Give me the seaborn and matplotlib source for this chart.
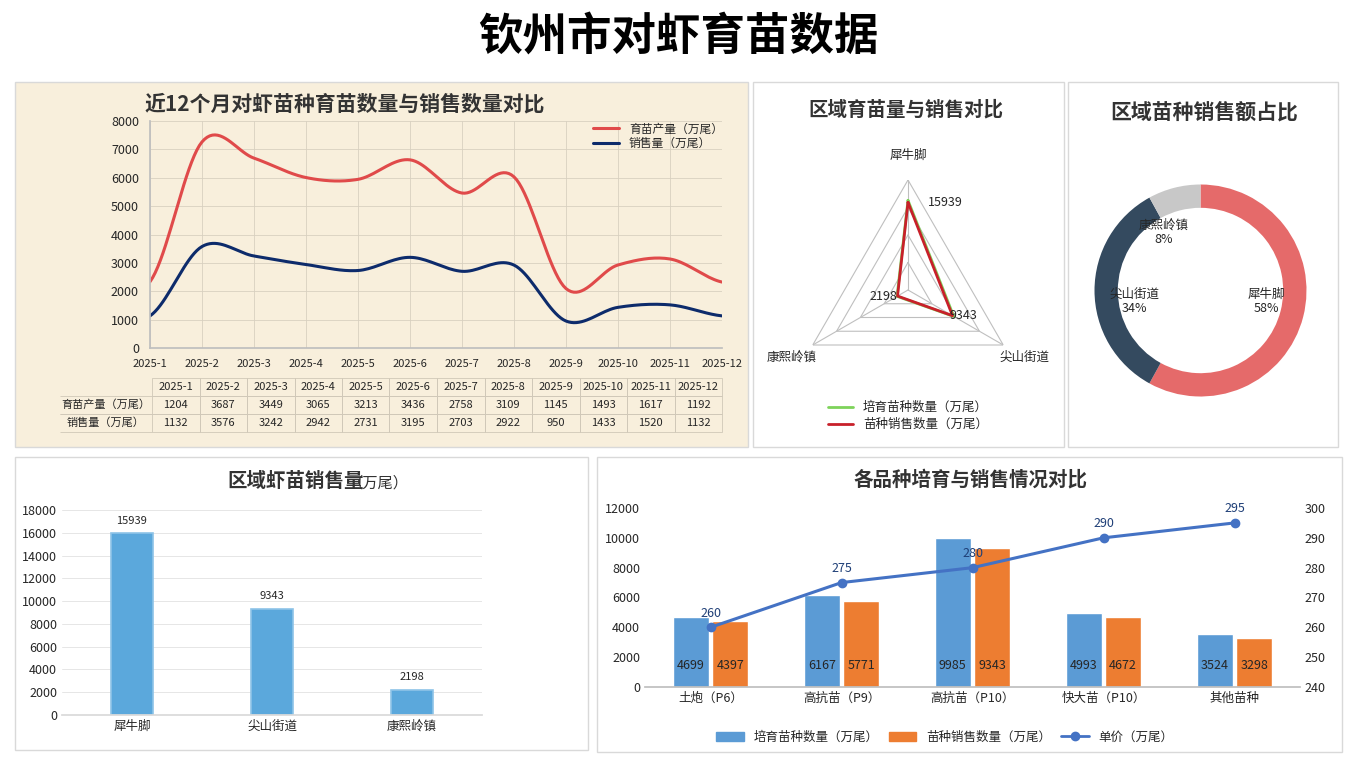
import numpy as np
import matplotlib
matplotlib.use("Agg")
import matplotlib.pyplot as plt
from matplotlib.patches import Rectangle, Patch
from matplotlib.lines import Line2D
import seaborn as sns
import pandas as pd

sns.set_theme(style="white")
plt.rcParams["font.family"] = ["Noto Sans CJK SC", "DejaVu Sans"]
plt.rcParams["axes.unicode_minus"] = False

W, H = 1356, 757

# ── data ──────────────────────────────────────────────────────────────────────
months = ["2025-1", "2025-2", "2025-3", "2025-4", "2025-5", "2025-6",
          "2025-7", "2025-8", "2025-9", "2025-10", "2025-11", "2025-12"]
production = [1204, 3687, 3449, 3065, 3213, 3436, 2758, 3109, 1145, 1493, 1617, 1192]
sales = [1132, 3576, 3242, 2942, 2731, 3195, 2703, 2922, 950, 1433, 1520, 1132]

regions = ["犀牛脚", "尖山街道", "康熙岭镇"]
region_breed = [16300, 9600, 2300]
region_sales = [15939, 9343, 2198]

varieties = ["土炮（P6）", "高抗苗（P9）", "高抗苗（P10）", "快大苗（P10）", "其他苗种"]
var_breed = [4699, 6167, 9985, 4993, 3524]
var_sales = [4397, 5771, 9343, 4672, 3298]
var_price = [260, 275, 280, 290, 295]

RED = "#E04A4A"
NAVY = "#0D2B6B"
BLUE = "#5B9BD5"
ORANGE = "#ED7D31"


def box(x0, y0, x1, y1):
    """pixel box (top-left origin) -> figure rect"""
    return [x0 / W, 1 - y1 / H, (x1 - x0) / W, (y1 - y0) / H]


def smooth(xs, ys, n=20):
    xs = np.asarray(xs, float)
    ys = np.asarray(ys, float)
    px = np.concatenate([[2 * xs[0] - xs[1]], xs, [2 * xs[-1] - xs[-2]]])
    py = np.concatenate([[ys[0]], ys, [ys[-1]]])
    outx, outy = [], []
    for i in range(1, len(px) - 2):
        t = np.linspace(0, 1, n, endpoint=False)
        for p, out in ((px, outx), (py, outy)):
            p0, p1, p2, p3 = p[i - 1], p[i], p[i + 1], p[i + 2]
            out.extend(0.5 * (2 * p1 + (-p0 + p2) * t + (2 * p0 - 5 * p1 + 4 * p2 - p3) * t ** 2
                              + (-p0 + 3 * p1 - 3 * p2 + p3) * t ** 3))
    outx.append(xs[-1])
    outy.append(ys[-1])
    return outx, outy


fig = plt.figure(figsize=(W / 100, H / 100), dpi=100)
fig.patch.set_facecolor("white")

# panel backgrounds
for (x0, y0, x1, y1, fc) in [(15, 82, 748, 447, "#F8EFDC"), (753, 82, 1064, 447, "white"),
                             (1068, 82, 1338, 447, "white"), (15, 457, 588, 750, "white"),
                             (597, 457, 1342, 752, "white")]:
    r = box(x0, y0, x1, y1)
    fig.patches.append(Rectangle((r[0], r[1]), r[2], r[3], transform=fig.transFigure,
                                 facecolor=fc, edgecolor="#D9D9D9", lw=1, zorder=-10))

fig.text(0.5, 1 - 37 / H, "钦州市对虾育苗数据", ha="center", va="center",
         fontsize=32, fontweight="heavy", color="black")

# ── Plot 1: monthly lines ─────────────────────────────────────────────────────
ax1 = fig.add_axes(box(150, 121, 722, 348))
ax1.set_facecolor("none")
stacked = [p + s for p, s in zip(production, sales)]
x = np.arange(len(months))
sx, sy = smooth(x, stacked)
ax1.plot(sx, sy, color=RED, lw=2.2, label="育苗产量（万尾）")
sx, sy = smooth(x, sales)
ax1.plot(sx, sy, color=NAVY, lw=2.2, label="销售量（万尾）")
ax1.set_xlim(0, 11)
ax1.set_ylim(0, 8000)
ax1.set_yticks(range(0, 8001, 1000))
ax1.set_xticks(x)
ax1.set_xticklabels(months, fontsize=8)
ax1.tick_params(axis="y", labelsize=9, pad=2)
ax1.tick_params(axis="x", pad=2)
ax1.grid(True, color="#D8D0C0", lw=0.6)
for s in ["top", "right"]:
    ax1.spines[s].set_visible(False)
for s in ["left", "bottom"]:
    ax1.spines[s].set_color("#BFBFBF")
ax1.legend(loc="upper right", bbox_to_anchor=(1.02, 1.04), frameon=False, fontsize=8.5,
           handlelength=2.2, labelspacing=0.1)
fig.text(145 / W, 1 - 104 / H, "近12个月对虾苗种育苗数量与销售数量对比", fontsize=15,
         fontweight="bold", color="#333333", va="center")

axt = fig.add_axes(box(60, 378, 722, 432))
axt.axis("off")
cells = [[""] + months, ["育苗产量（万尾）"] + [str(v) for v in production],
         ["销售量（万尾）"] + [str(v) for v in sales]]
tbl = axt.table(cellText=cells, bbox=[0, 0, 1, 1],
                colWidths=[92] + [47.5] * 12, cellLoc="center")
tbl.auto_set_font_size(False)
tbl.set_fontsize(8)
for (r, c), cell in tbl.get_celld().items():
    cell.set_edgecolor("#D0C8B8")
    cell.set_facecolor("none")
    cell.set_linewidth(0.6)
    if c == 0:
        cell._loc = "left"
        cell.visible_edges = "" if r == 0 else "BT"
    if r == 0 and c == 0:
        cell.set_edgecolor("none")

# ── Plot 2: radar ─────────────────────────────────────────────────────────────
fig.text(906 / W, 1 - 110 / H, "区域育苗量与销售对比", ha="center", va="center",
         fontsize=14, fontweight="bold", color="#333333")
ax2 = fig.add_axes(box(788, 180, 1028, 400), projection="polar")
ang = np.array([0, 2 * np.pi / 3, 4 * np.pi / 3])
ax2.set_theta_zero_location("N")
ax2.set_theta_direction(-1)
ax2.set_ylim(0, 20000)
ax2.axis("off")
for lvl in [5000, 10000, 15000, 20000]:
    ax2.plot(np.append(ang, ang[0]), [lvl] * 4, color="#BFBFBF", lw=0.8)
for a in ang:
    ax2.plot([a, a], [0, 20000], color="#BFBFBF", lw=0.8)
ax2.plot(np.append(ang, ang[0]), region_breed + region_breed[:1], color="#7DD35A", lw=2)
ax2.plot(np.append(ang, ang[0]), region_sales + region_sales[:1], color="#C8202A", lw=2)
for a, v, lab in zip(ang, region_sales, regions):
    ax2.annotate(str(v), (a, v), xytext=(14 if a == 0 else (-2 if a < 3 else 0), 0),
                 textcoords="offset points", fontsize=9,
                 ha="left" if a < 3 else "right", va="center")
    ax2.text(a, 24500, lab, fontsize=9, ha="center", va="center")
fig.legend(handles=ax2.lines[-2:], labels=["培育苗种数量（万尾）", "苗种销售数量（万尾）"],
           loc="center", bbox_to_anchor=(908 / W, 1 - 416 / H), frameon=False, fontsize=9,
           labelspacing=0.3)

# ── Plot 3: donut ─────────────────────────────────────────────────────────────
fig.text(1204 / W, 1 - 112 / H, "区域苗种销售额占比", ha="center", va="center",
         fontsize=15, fontweight="bold", color="#333333")
ax3 = fig.add_axes(box(1068, 158, 1333, 423))
ax3.pie(region_sales, colors=["#E56A6A", "#344A5F", "#C8C8C8"], startangle=90,
        counterclock=False, radius=1, wedgeprops=dict(width=0.22, edgecolor="white", lw=0))
ax3.set_aspect("equal")
total = sum(region_sales)
label_pos = [(0.62, -0.1), (-0.62, -0.1), (-0.35, 0.55)]
for lab, v, (lx, ly) in zip(regions, region_sales, label_pos):
    ax3.text(lx, ly, f"{lab}\n{v / total:.0%}", ha="center", va="center", fontsize=9,
             linespacing=1.1)

# ── Plot 4: region bars ───────────────────────────────────────────────────────
fig.text(296 / W, 1 - 482 / H, "区域虾苗销售量", ha="center", va="center",
         fontsize=14, fontweight="bold", color="#333333")
fig.text(347 / W, 1 - 483 / H, "（万尾）", ha="left", va="center", fontsize=11, color="#333333")
ax4 = fig.add_axes(box(62, 510, 482, 715))
df4 = pd.DataFrame({"region": regions, "sales": region_sales})
sns.barplot(data=df4, x="region", y="sales", color="#5BA8DC", width=0.3, ax=ax4,
            edgecolor="#8EC3E8", linewidth=1.2, saturation=1)
for i, v in enumerate(region_sales):
    ax4.text(i, v + 700, str(v), ha="center", va="bottom", fontsize=8)
ax4.set_ylim(0, 18000)
ax4.set_yticks(range(0, 18001, 2000))
ax4.set_xlabel("")
ax4.set_ylabel("")
ax4.grid(axis="y", color="#E6E6E6", lw=0.7)
ax4.tick_params(labelsize=9, length=0)
for s in ax4.spines.values():
    s.set_visible(False)
ax4.spines["bottom"].set_visible(True)
ax4.spines["bottom"].set_color("#D9D9D9")

# ── Plot 5: varieties combo ───────────────────────────────────────────────────
fig.text(970 / W, 1 - 480 / H, "各品种培育与销售情况对比", ha="center", va="center",
         fontsize=14, fontweight="bold", color="#333333")
ax5 = fig.add_axes(box(645, 508, 1300, 687))
df5 = pd.DataFrame({"variety": varieties * 2, "value": var_breed + var_sales,
                    "kind": ["培育苗种数量（万尾）"] * 5 + ["苗种销售数量（万尾）"] * 5})
sns.barplot(data=df5, x="variety", y="value", hue="kind", palette=[BLUE, ORANGE],
            width=0.6, gap=0.1, ax=ax5, saturation=1, legend=False)
for cont in ax5.containers:
    for bar in cont:
        ax5.text(bar.get_x() + bar.get_width() / 2, 1000, f"{bar.get_height():.0f}",
                 ha="center", va="bottom", fontsize=9)
ax5.set_ylim(0, 12000)
ax5.set_yticks(range(0, 12001, 2000))
ax5.set_xlabel("")
ax5.set_ylabel("")
ax5.tick_params(labelsize=9, length=0)
for s in ax5.spines.values():
    s.set_visible(False)
ax5.spines["bottom"].set_visible(True)
ax5.spines["bottom"].set_color("#BFBFBF")
ax5r = ax5.twinx()
ax5r.plot(range(5), var_price, color="#4472C4", lw=2.2, marker="o", ms=6)
for i, v in enumerate(var_price):
    ax5r.text(i, v + 2.5, str(v), ha="center", va="bottom", fontsize=9, color="#1F3F77")
ax5r.set_ylim(240, 300)
ax5r.set_yticks(range(240, 301, 10))
ax5r.tick_params(labelsize=9, length=0)
for s in ax5r.spines.values():
    s.set_visible(False)
ax5.set_xlim(-0.5, 4.5)
handles = [Patch(color=BLUE), Patch(color=ORANGE),
           Line2D([], [], color="#4472C4", lw=2, marker="o")]
fig.legend(handles, ["培育苗种数量（万尾）", "苗种销售数量（万尾）", "单价（万尾）"],
           loc="center", bbox_to_anchor=(945 / W, 1 - 737 / H), ncol=3, frameon=False,
           fontsize=9, handlelength=2.2, columnspacing=0.8)

fig.savefig("out.png", dpi=100)
